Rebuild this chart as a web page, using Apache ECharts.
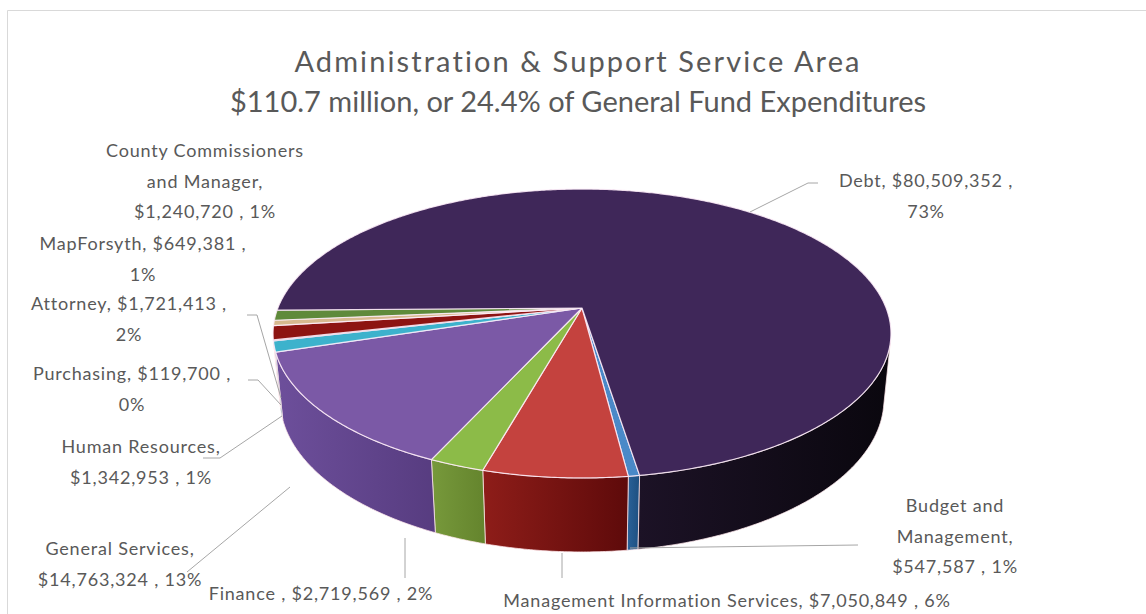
<!DOCTYPE html>
<html>
<head>
<meta charset="utf-8">
<script src="https://cdn.jsdelivr.net/npm/echarts@6/dist/echarts.min.js"></script>
<style>
  html, body { margin: 0; padding: 0; background: #ffffff; }
  #chart { width: 1146px; height: 614px; }
  /* data labels are set a little loose, like the spreadsheet renderer */
  #chart text[style*="18px"] { letter-spacing: 0.8px; }
  /* first title line is tracked out */
  #chart text[style*="sans-serif"] { letter-spacing: 2.1px; }
</style>
</head>
<body>
<div id="chart"></div>
<script>
// Service area spending, clockwise from the front of the pie
const categories = [
  'Budget and\nManagement',
  'Management Information Services',
  'Finance ',
  'General Services',
  'Human Resources',
  'Purchasing',
  'Attorney',
  'MapForsyth',
  'County Commissioners\nand Manager',
  'Debt'
];
const values = [547587, 7050849, 2719569, 14763324, 1342953, 119700, 1721413, 649381, 1240720, 80509352];
const percentLabels = [1, 6, 2, 13, 1, 0, 2, 1, 1, 73];
const titleLines = [
  'Administration & Support Service Area',
  '$110.7 million, or 24.4% of General Fund Expenditures'
];

// Slice colours: top face, and wall gradient (left -> right)
const topColors = ['#4a89c8', '#c4423e', '#8cbb48', '#7b59a6', '#3db2cc', '#203e6c', '#8d1412', '#d7b98f', '#5f8a3b', '#3f2759'];
const wallColors = [
  ['#2a6299', '#1d4f80'], ['#8e1d19', '#5e0a0a'], ['#77993b', '#64842d'], ['#6d4f9b', '#573c80'],
  ['#2f8ea4', '#267a8d'], ['#1a3158', '#142847'], ['#6e0e0e', '#5a0a0a'], ['#b8966a', '#a0805a'],
  ['#4c7030', '#3e5e26'], ['#1c1226', '#0a070e']
];

// Label placement: first-line centre, line arrangement, leader polyline
const labelLayout = [
  { x: 955, y: 505, form: 'C', leader: [[858, 545], [630, 548]] },
  { x: 727, y: 600, form: 'A', leader: [[562, 553], [562, 578]] },
  { x: 321, y: 593, form: 'A', leader: [[405, 538], [405, 578]] },
  { x: 120, y: 548, form: 'C', leader: [[187, 572], [290, 487]] },
  { x: 141, y: 446, form: 'C', leader: [[203, 458], [220, 458], [282, 416]] },
  { x: 132, y: 373, form: 'B', leader: [[248, 380], [258, 380], [281, 405]] },
  { x: 129, y: 303, form: 'B', leader: [[247, 315], [257, 315], [281, 398]] },
  { x: 143, y: 243, form: 'B', leader: null },
  { x: 205, y: 150, form: 'C', leader: null },
  { x: 926, y: 180, form: 'B', leader: [[818, 183], [808, 183], [750, 212]] }
];

// Perspective view of a tilted disc
const VIEW = { cx: 582, cy: 308, f: 1529.7, dist: 5.03, elev: 27.4, depth: 0.246, start: 81 };
const sinE = Math.sin(VIEW.elev * Math.PI / 180);
const cosE = Math.cos(VIEW.elev * Math.PI / 180);
const silhouette = Math.asin(1 / (VIEW.dist * cosE)) * 180 / Math.PI;

function project(deg, lower) {
  const t = deg * Math.PI / 180;
  const X = Math.cos(t), Z = Math.sin(t), Y = lower ? -VIEW.depth : 0;
  const yc = Y * cosE - Z * sinE;
  const d = VIEW.dist - Y * sinE - Z * cosE;
  return [VIEW.cx + VIEW.f * X / d, VIEW.cy - VIEW.f * yc / d];
}
function arc(a0, a1, lower) {
  const n = Math.max(2, Math.ceil(Math.abs(a1 - a0) / 0.5) + 1);
  const pts = [];
  for (let k = 0; k < n; k++) pts.push(project(a0 + (a1 - a0) * k / (n - 1), lower));
  return pts;
}

const total = values.reduce((s, v) => s + v, 0);
const cumulative = [0];
values.forEach(v => cumulative.push(cumulative[cumulative.length - 1] + v));

function renderSlice(params, api) {
  const i = params.dataIndex;
  const a0 = VIEW.start + 360 * cumulative[i] / total;
  const a1 = VIEW.start + 360 * (cumulative[i] + api.value(0)) / total;
  const children = [];
  // side wall, only where it faces the viewer
  [0, 360].forEach(k => {
    const lo = Math.max(a0, k + silhouette), hi = Math.min(a1, k + 180 - silhouette);
    if (hi > lo) {
      const pts = arc(lo, hi, false).concat(arc(hi, lo, true));
      children.push({
        type: 'polygon', z2: 1,
        shape: { points: pts },
        style: {
          fill: new echarts.graphic.LinearGradient(0, 0, 1, 0, [
            { offset: 0, color: wallColors[i][0] }, { offset: 1, color: wallColors[i][1] }
          ]),
          stroke: 'rgba(255,232,236,0.75)', lineWidth: 1
        }
      });
    }
  });
  // top face
  children.push({
    type: 'polygon', z2: 5,
    shape: { points: [[VIEW.cx, VIEW.cy]].concat(arc(a0, a1, false)) },
    style: { fill: topColors[i], stroke: 'rgba(255,238,250,0.85)', lineWidth: 1.2, lineJoin: 'round' }
  });
  return { type: 'group', children };
}

function labelText(i) {
  const money = '$' + values[i].toLocaleString('en-US');
  const name = categories[i];
  const form = labelLayout[i].form;
  if (form === 'A') return name + ', ' + money + ' , ' + percentLabels[i] + '%';
  if (form === 'B') return name + ', ' + money + ' ,\n' + percentLabels[i] + '%';
  return name + ',\n' + money + ' , ' + percentLabels[i] + '%';
}

const LINE_H = 30.5;
const graphics = [
  { type: 'rect', silent: true, shape: { x: 7.5, y: 10.5, width: 1300, height: 800 },
    style: { fill: 'none', stroke: '#d9d9d9', lineWidth: 1 } },
  { type: 'text', x: 578, y: 60, style: { text: titleLines[0], fill: '#595959', fontSize: 29,
    fontFamily: 'Lato, sans-serif', align: 'center', verticalAlign: 'middle' } },
  { type: 'text', x: 578, y: 100, style: { text: titleLines[1], fill: '#595959', fontSize: 29,
    fontFamily: 'Lato', align: 'center', verticalAlign: 'middle' } }
];
categories.forEach((c, i) => {
  const L = labelLayout[i];
  if (L.leader) {
    graphics.push({ type: 'polyline', z: 50, shape: { points: L.leader },
      style: { stroke: '#a6a6a6', lineWidth: 1, fill: 'none' } });
  }
  graphics.push({ type: 'text', z: 50, x: L.x, y: L.y - LINE_H / 2,
    style: { text: labelText(i), fill: '#595959', fontSize: 18, fontFamily: 'Lato',
      align: 'center', verticalAlign: 'top', lineHeight: LINE_H } });
});

const chart = echarts.init(document.getElementById('chart'), null, { renderer: 'svg' });
chart.setOption({
  animation: false,
  backgroundColor: '#ffffff',
  graphic: { elements: graphics },
  series: [{
    type: 'custom',
    coordinateSystem: 'none',
    silent: true,
    renderItem: renderSlice,
    data: values.map((v, i) => ({ name: categories[i], value: v }))
  }]
});
</script>
</body>
</html>
